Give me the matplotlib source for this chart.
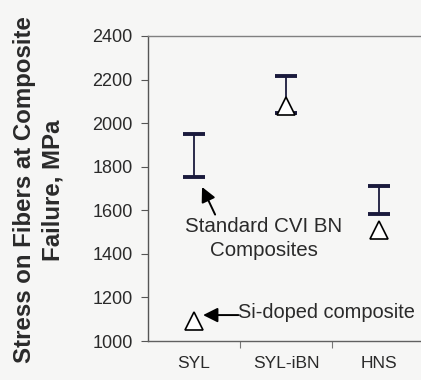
import numpy as np
import matplotlib
matplotlib.use("Agg")
import matplotlib.pyplot as plt

plt.rcParams["font.family"] = ["Liberation Sans", "DejaVu Sans"]

# data
categories = ["SYL", "SYL-iBN", "HNS"]
std_low = [1753, 2046, 1583]    # standard CVI BN composites, lower end
std_high = [1950, 2216, 1711]   # upper end
si_doped = [1090, 2078, 1509]   # Si-doped composites
yticks = [1000, 1200, 1400, 1600, 1800, 2000, 2200, 2400]

_BG = "#f6f6f5"
_C_CAP = "#1a1a3c"
_C_TXT = "#2a2a2a"

fig = plt.figure(figsize=(4.21, 3.80), dpi=100, facecolor=_BG)
ax = fig.add_axes([148 / 421, 1 - 341 / 380, 1 - 148 / 421, (341 - 36) / 380])
ax.set_facecolor(_BG)

x = np.arange(len(categories))
lo = np.array(std_low)
hi = np.array(std_high)
ax.errorbar(x, lo, yerr=[np.zeros_like(lo), hi - lo], fmt="none",
            ecolor=_C_CAP, elinewidth=1.3, capsize=7.8, capthick=2.8, zorder=3)
ax.plot(x, si_doped, linestyle="none", marker="^", ms=12.5, mfc="white",
        mec="black", mew=1.2, zorder=4)

ax.set_xlim(-0.5, 2.46)
ax.set_ylim(1000, 2400)
ax.set_yticks(yticks)
ax.set_xticks(x)
ax.set_xticklabels(categories, fontsize=12.5, color=_C_TXT)
ax.set_xticks([0.5, 1.5], minor=True)
ax.tick_params(axis="x", which="major", length=0, pad=11)
ax.tick_params(axis="x", which="minor", length=5, width=0.8, color="#777777",
               direction="out")
ax.tick_params(axis="y", labelsize=13, labelcolor=_C_TXT, length=5, width=0.8,
               color="#555555", direction="out", pad=6)

ax.spines["right"].set_visible(False)
ax.spines["top"].set_color("#808080")
ax.spines["bottom"].set_color("#606060")
ax.spines["left"].set_color("#555555")
for s in ("top", "bottom", "left"):
    ax.spines[s].set_linewidth(1.0)

fig.text(38.5 / 421, 1 - 190 / 380, "Stress on Fibers at Composite\nFailure, MPa",
         rotation=90, ha="center", va="center", fontsize=17.3, fontweight="bold",
         color=_C_TXT, linespacing=1.3)

ax.annotate("Standard CVI BN\nComposites", xy=(0.086, 1707), xytext=(0.753, 1470),
            ha="center", va="center", fontsize=14.8, color=_C_TXT, linespacing=1.3,
            arrowprops=dict(arrowstyle="-|>", color="black", lw=1.4,
                            mutation_scale=22, shrinkA=0, shrinkB=0,
                            relpos=(0.2, 1.0)))
ax.annotate("", xy=(0.097, 1119), xytext=(0.48, 1119),
            arrowprops=dict(arrowstyle="-|>", color="black", lw=1.4,
                            mutation_scale=22, shrinkA=0, shrinkB=0))
ax.text(0.48, 1133, "Si-doped composite", ha="left", va="center",
        fontsize=14.4, color=_C_TXT, clip_on=False)

fig.savefig("out.png", dpi=100, facecolor=_BG)
